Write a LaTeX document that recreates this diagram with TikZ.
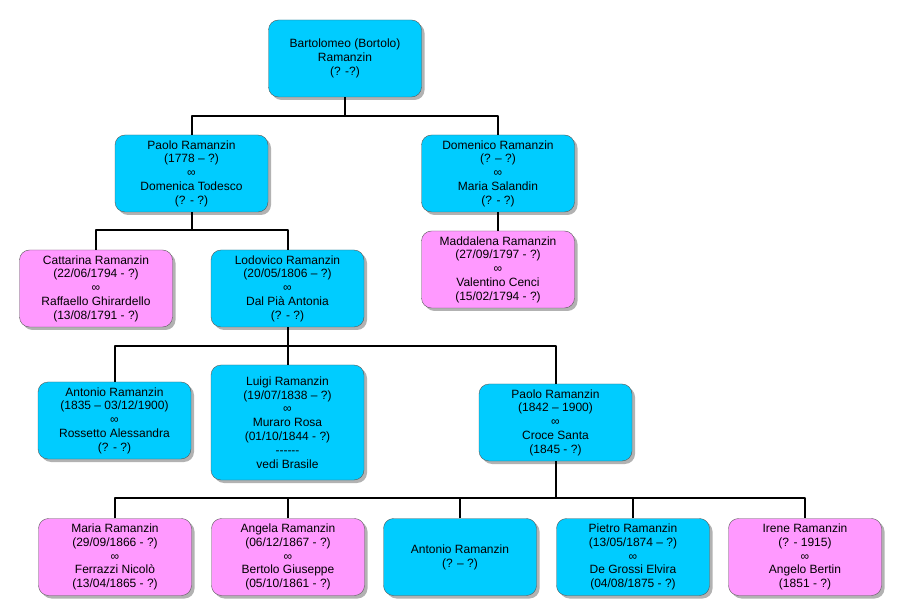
\documentclass[tikz,border=0pt]{standalone}
\usepackage{fontspec}
\setmainfont{Liberation Sans}
\usetikzlibrary{shadows}

\definecolor{boy}{HTML}{00CCFF}
\definecolor{girl}{HTML}{FF99FF}

\begin{document}
\begin{tikzpicture}[line cap=round,line join=round,x=1pt,y=-1pt,
  person/.style={draw=black!65,thin,rounded corners=10pt,minimum width=153pt,minimum height=77pt,
    align=center,inner sep=2pt,font=\fontsize{12}{13.8}\selectfont,
    drop shadow={shadow xshift=3pt,shadow yshift=-3pt,fill=black!60}},
  m/.style={person,fill=boy},
  f/.style={person,fill=girl},
  link/.style={draw=black,line width=2pt,line cap=butt}]

\def\ga{58.5} %generation 0
\def\gb{173.5} %generation 1
\def\gc{288.5} %generation 2
\def\gd{422.5} %generation 3
\def\ge{557} %generation 4

\useasboundingbox (0,0) rectangle (900,612);

%generation 0
\node[m] (bartolomeo) at (345,\ga) {Bartolomeo (Bortolo)\\Ramanzin\\(? -?)};

%generation 1
\node[m] (paolo) at (191.5,\gb) {Paolo Ramanzin\\(1778 – ?)\\∞\\Domenica Todesco\\(? - ?)};
\node[m] (domenico) at (498,\gb) {Domenico Ramanzin\\(? – ?)\\∞\\Maria Salandin\\(? - ?)};

%generation 2
\node[f] (cattarina) at (96,\gc) {Cattarina Ramanzin\\(22/06/1794 - ?)\\∞\\Raffaello Ghirardello\\(13/08/1791 - ?)};
\node[m] (lodovico) at (287.5,\gc) {Lodovico Ramanzin\\(20/05/1806 – ?)\\∞\\Dal Pià Antonia\\(? - ?)};
\node[f] (maddalena) at (498,269.5) {Maddalena Ramanzin\\(27/09/1797 - ?)\\∞\\Valentino Cenci\\(15/02/1794 - ?)};

%generation 3
\node[m] (antonio) at (114.5,420.5) {Antonio Ramanzin\\(1835 – 03/12/1900)\\∞\\Rossetto Alessandra\\(? - ?)};
\node[m,minimum height=115pt] (luigi) at (287.5,\gd) {Luigi Ramanzin\\(19/07/1838 – ?)\\∞\\Muraro Rosa\\(01/10/1844 - ?)\\-{}-{}-{}-{}-{}-\\vedi Brasile};
\node[m] (paolob) at (555.5,\gd) {Paolo Ramanzin\\(1842 – 1900)\\∞\\Croce Santa\\(1845 - ?)};

%generation 4
\node[f] (maria) at (115,\ge) {Maria Ramanzin\\(29/09/1866 - ?)\\∞\\Ferrazzi Nicolò\\(13/04/1865 - ?)};
\node[f] (angela) at (288,\ge) {Angela Ramanzin\\(06/12/1867 - ?)\\∞\\Bertolo Giuseppe\\(05/10/1861 - ?)};
\node[m] (antoniob) at (460,\ge) {Antonio Ramanzin\\(? – ?)};
\node[m] (pietro) at (633,\ge) {Pietro Ramanzin\\(13/05/1874 – ?)\\∞\\De Grossi Elvira\\(04/08/1875 - ?)};
\node[f] (irene) at (805,\ge) {Irene Ramanzin\\(? - 1915)\\∞\\Angelo Bertin\\(1851 - ?)};

%links
\draw[link] (bartolomeo.south) -- ++(0,19) coordinate (ja);
\draw[link] (paolo.north) |- (ja) -| (domenico.north);
\draw[link] (domenico.south) -- (maddalena.north);

\draw[link] (paolo.south) -- ++(0,18) coordinate (jb);
\draw[link] (cattarina.north) |- (jb) -| (lodovico.north);

\draw[link] (lodovico.south) -- ++(0,19) coordinate (jc);
\draw[link] (antonio.north) |- (jc) -| (paolob.north);
\draw[link] (jc) -- (luigi.north);

\draw[link] (paolob.south) -- ++(0,37) coordinate (jd);
\draw[link] (maria.north) |- (jd) -| (irene.north);
\foreach \k in {angela,antoniob,pietro}
  \draw[link] (\k.north) |- (jd);

\end{tikzpicture}
\end{document}
